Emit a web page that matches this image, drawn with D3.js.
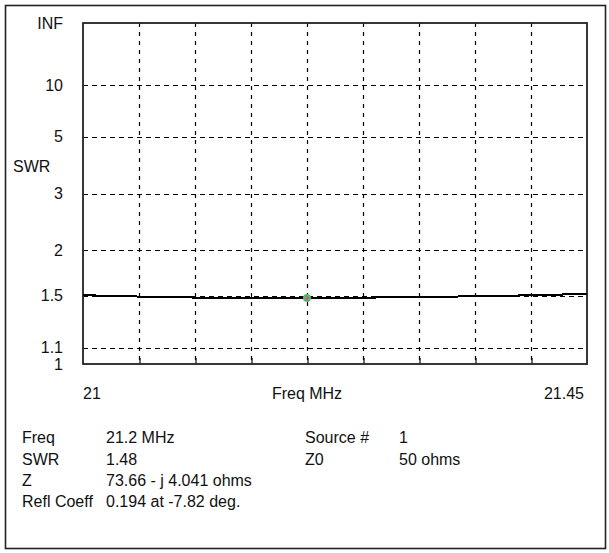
<!DOCTYPE html>
<html>
<head>
<meta charset="utf-8">
<script src="https://cdn.jsdelivr.net/npm/d3@7"></script>
<style>
  html, body { margin: 0; padding: 0; background: #fff; }
  svg { display: block; }
  text { font-family: "Liberation Sans", Arial, sans-serif; font-size: 16px; fill: #111; }
</style>
</head>
<body>
<svg id="chart" width="609" height="553"></svg>
<script>
// SWR sweep, 21.00 - 21.45 MHz
const freqs = [21.000, 21.025, 21.050, 21.075, 21.100, 21.125, 21.150, 21.175, 21.200, 21.225,
               21.250, 21.275, 21.300, 21.325, 21.350, 21.375, 21.400, 21.425, 21.450];
const swr   = [1.505, 1.500, 1.493, 1.488, 1.484, 1.481, 1.480, 1.479, 1.480, 1.481,
               1.483, 1.486, 1.489, 1.492, 1.496, 1.500, 1.505, 1.511, 1.518];

// SWR axis labels (INF at top, 1 at bottom)
const swrTickValues = [Infinity, 10, 5, 3, 2, 1.5, 1.1, 1];
const swrTickLabels = ["INF", "10", "5", "3", "2", "1.5", "1.1", "1"];
const swrGridValues = [10, 5, 3, 2, 1.5, 1.1];

// frequency grid
const freqGrid = [21.05, 21.10, 21.15, 21.20, 21.25, 21.30, 21.35, 21.40];
const freqLabels = ["21", "Freq MHz", "21.45"];

// cursor point
const cursorFreq = 21.2;
const cursorSwr = 1.48;

// readout table
const readLeftNames  = ["Freq", "SWR", "Z", "Refl Coeff"];
const readLeftValues = ["21.2 MHz", "1.48", "73.66 - j 4.041 ohms", "0.194 at -7.82 deg."];
const readRightNames  = ["Source #", "Z0"];
const readRightValues = ["1", "50 ohms"];

const svg = d3.select("#chart");
const L = 83, R = 587, T = 23, B = 364;

// SWR is plotted linearly in reflection-coefficient magnitude
const rho = s => (s === Infinity ? 1 : (s - 1) / (s + 1));
const y = d3.scaleLinear().domain([0, 1]).range([B, T]);
const ys = s => y(rho(s));
const x = d3.scaleLinear().domain([21, 21.45]).range([L, R]);

// outer panel border
svg.append("rect")
  .attr("x", 5.5).attr("y", 5.5).attr("width", 600).attr("height", 543)
  .attr("fill", "#fff").attr("stroke", "#222").attr("stroke-width", 1.6);

// horizontal dashed grid
svg.append("g").selectAll("line").data(swrGridValues).join("line")
  .attr("x1", L).attr("x2", R - 4)
  .attr("y1", d => Math.round(ys(d)) + 0.5).attr("y2", d => Math.round(ys(d)) + 0.5)
  .attr("stroke", "#000").attr("stroke-width", 1.2)
  .attr("stroke-dasharray", "5,4");

// vertical dashed grid
svg.append("g").selectAll("line").data(freqGrid).join("line")
  .attr("x1", d => Math.round(x(d)) + 0.5).attr("x2", d => Math.round(x(d)) + 0.5)
  .attr("y1", T).attr("y2", B)
  .attr("stroke", "#000").attr("stroke-width", 1.2)
  .attr("stroke-dasharray", "4,5");

// bottom tick marks via axis
const xAxis = d3.axisBottom(x).tickValues(freqGrid).tickSize(-6).tickFormat("");
const gx = svg.append("g").attr("transform", `translate(0.5,${B})`).call(xAxis);
gx.select(".domain").remove();
gx.selectAll("line").attr("stroke", "#000").attr("stroke-width", 1.2);

// plot frame
svg.append("rect")
  .attr("x", L).attr("y", T).attr("width", R - L).attr("height", B - T)
  .attr("fill", "none").attr("stroke", "#222").attr("stroke-width", 1.8);

// SWR curve
const line = d3.line().x((d, i) => x(freqs[i])).y(d => ys(d));
svg.append("path").datum(swr)
  .attr("d", line)
  .attr("fill", "none").attr("stroke", "#000").attr("stroke-width", 2)
  .attr("shape-rendering", "crispEdges");

// cursor marker
const cx = x(cursorFreq), cy = ys(cursorSwr);
svg.append("circle").attr("cx", cx).attr("cy", cy).attr("r", 4).attr("fill", "#2fe02f");
svg.append("path")
  .attr("d", `M${cx - 1.5},${cy - 2.5}L${cx + 1.2},${cy - 0.3}L${cx - 1.2},${cy + 0.8}L${cx + 1.5},${cy + 3}`)
  .attr("fill", "none").attr("stroke", "#e040e0").attr("stroke-width", 1.5);

// SWR axis labels
svg.append("g").selectAll("text").data(swrTickValues).join("text")
  .attr("x", 63)
  .attr("y", d => ys(d))
  .attr("dy", "0.35em")
  .attr("text-anchor", "end")
  .text((d, i) => swrTickLabels[i]);

svg.append("text").attr("x", 13).attr("y", 166).attr("dy", "0.35em").text("SWR");

// frequency labels
svg.append("text").attr("x", L).attr("y", 393).attr("dy", "0.35em").text(freqLabels[0]);
svg.append("text").attr("x", x(cursorFreq)).attr("y", 393).attr("dy", "0.35em")
  .attr("text-anchor", "middle").text(freqLabels[1]);
svg.append("text").attr("x", R - 3).attr("y", 393).attr("dy", "0.35em")
  .attr("text-anchor", "end").text(freqLabels[2]);

// readout rows
const rowY = [437, 459, 480, 501];
const rows = svg.append("g");
rows.selectAll(".nm").data(readLeftNames).join("text")
  .attr("x", 22).attr("y", (d, i) => rowY[i]).attr("dy", "0.35em").text(d => d);
rows.selectAll(".vl").data(readLeftValues).join("text")
  .attr("x", 106).attr("y", (d, i) => rowY[i]).attr("dy", "0.35em").text(d => d);
rows.selectAll(".rn").data(readRightNames).join("text")
  .attr("x", 305).attr("y", (d, i) => rowY[i]).attr("dy", "0.35em").text(d => d);
rows.selectAll(".rv").data(readRightValues).join("text")
  .attr("x", 399).attr("y", (d, i) => rowY[i]).attr("dy", "0.35em").text(d => d);
</script>
</body>
</html>
